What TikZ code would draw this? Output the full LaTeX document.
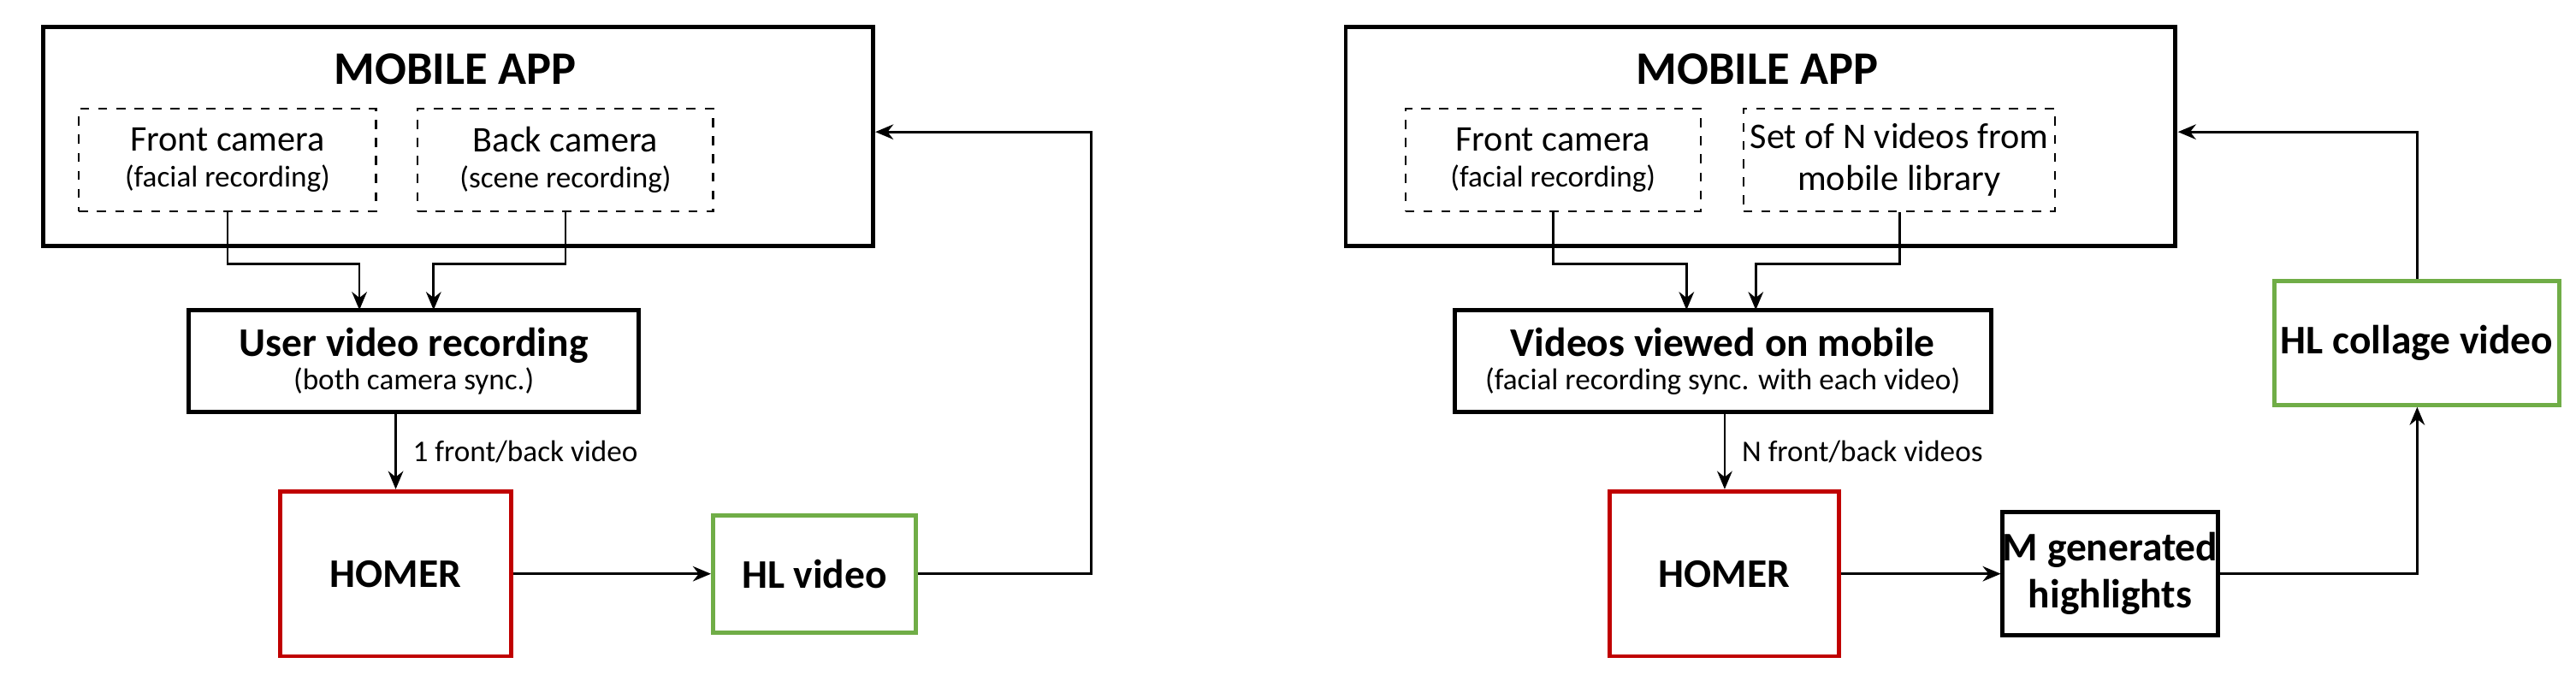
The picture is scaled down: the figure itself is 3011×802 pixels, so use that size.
\documentclass[tikz,border=0pt]{standalone}
\usepackage{fontspec}
\setmainfont{Carlito}
\usetikzlibrary{arrows.meta}
\definecolor{hred}{RGB}{192,0,0}
\definecolor{hgreen}{RGB}{112,173,71}
\begin{document}
\begin{tikzpicture}[x=0.01cm,y=-0.01cm,
  box/.style={draw,line width=1.4pt,inner sep=0pt},
  bf/.style={font=\bfseries\fontsize{13.5}{15.5}\selectfont},
  dbox/.style={draw,dashed,line width=0.6pt,inner sep=0pt,align=center,font=\fontsize{12}{14}\selectfont},
  arr/.style={-{Stealth[length=6pt,width=5pt]},line width=0.8pt},
  small/.style={font=\fontsize{10}{12}\selectfont}]
\useasboundingbox (0,0) rectangle (3011,802);
\begin{scope}[scale=1.927]
% LEFT
\node[box,minimum width=503*0.01927cm,minimum height=133*0.01927cm,anchor=north west] (app1) at (25,15) {};
\node[font=\bfseries\fontsize{15.5}{18}\selectfont] (t1) at (276,42) {MOBILE APP};
\node[dbox,minimum width=180*0.01927cm,minimum height=62*0.01927cm] (fc1) at (138,97) {Front camera\\[-2pt]{\fontsize{10}{12}\selectfont(facial recording)}};
\node[dbox,minimum width=179*0.01927cm,minimum height=62*0.01927cm] (bc1) at (343,97) {Back camera\\[-2pt]{\fontsize{10}{12}\selectfont(scene recording)}};
\node[box,align=center,minimum width=273*0.01927cm,minimum height=62*0.01927cm] (uv) at (251,219) {{\bfseries\fontsize{13.5}{15.5}\selectfont User video recording}\\[-1pt]{\fontsize{10}{12}\selectfont(both camera sync.)}};
\node[box,draw=hred,minimum width=140*0.01927cm,minimum height=100*0.01927cm,bf] (h1) at (240,348) {HOMER};
\node[box,draw=hgreen,minimum width=123*0.01927cm,minimum height=71*0.01927cm,bf] (hl) at (494,348) {HL video};
\draw[arr] (fc1.south) |- (218,160) -- (218,188);
\draw[arr] (bc1.south) |- (263,160) -- (263,188);
\draw[arr] (uv.south -| h1.north) -- node[right,small,xshift=2pt]{1 front/back video} (h1.north);
\draw[arr] (h1.east) -- (hl.west);
\coordinate (c1) at (662,348);
\coordinate (c2) at (662,80);
\draw[arr] (hl.east) -- (c1) -- (c2) -- (app1.east |- c2);
% RIGHT
\node[box,minimum width=503*0.01927cm,minimum height=133*0.01927cm,anchor=north west] (app2) at (815,15) {};
\node[font=\bfseries\fontsize{15.5}{18}\selectfont] (t2) at (1066,42) {MOBILE APP};
\node[dbox,minimum width=179*0.01927cm,minimum height=62*0.01927cm] (fc2) at (942,97) {Front camera\\[-2pt]{\fontsize{10}{12}\selectfont(facial recording)}};
\node[dbox,minimum width=189*0.01927cm,minimum height=62*0.01927cm] (sv) at (1152,97) {Set of N videos from\\mobile library};
\node[box,align=center,minimum width=325*0.01927cm,minimum height=62*0.01927cm] (vv) at (1045,219) {{\bfseries\fontsize{13.5}{15.5}\selectfont Videos viewed on mobile}\\[-1pt]{\fontsize{10}{12}\selectfont(facial recording sync. with each video)}};
\node[box,draw=hred,minimum width=139*0.01927cm,minimum height=100*0.01927cm,bf] (h2) at (1046,348) {HOMER};
\node[box,align=center,minimum width=117*0.01927cm,minimum height=75*0.01927cm,bf] (mg) at (1280,348) {M generated\\highlights};
\node[box,draw=hgreen,minimum width=173*0.01927cm,minimum height=75*0.01927cm,bf] (hc) at (1466,208) {HL collage video};
\draw[arr] (fc2.south) |- (1023,160) -- (1023,188);
\draw[arr] (sv.south) |- (1065,160) -- (1065,188);
\draw[arr] (vv.south -| h2.north) -- node[right,small,xshift=2pt]{N front/back videos} (h2.north);
\draw[arr] (h2.east) -- (mg.west);
\draw[arr] (mg.east) -| (hc.south);
\draw[arr] (hc.north) |- (app2.east |- c2);
\end{scope}
\end{tikzpicture}
\end{document}
